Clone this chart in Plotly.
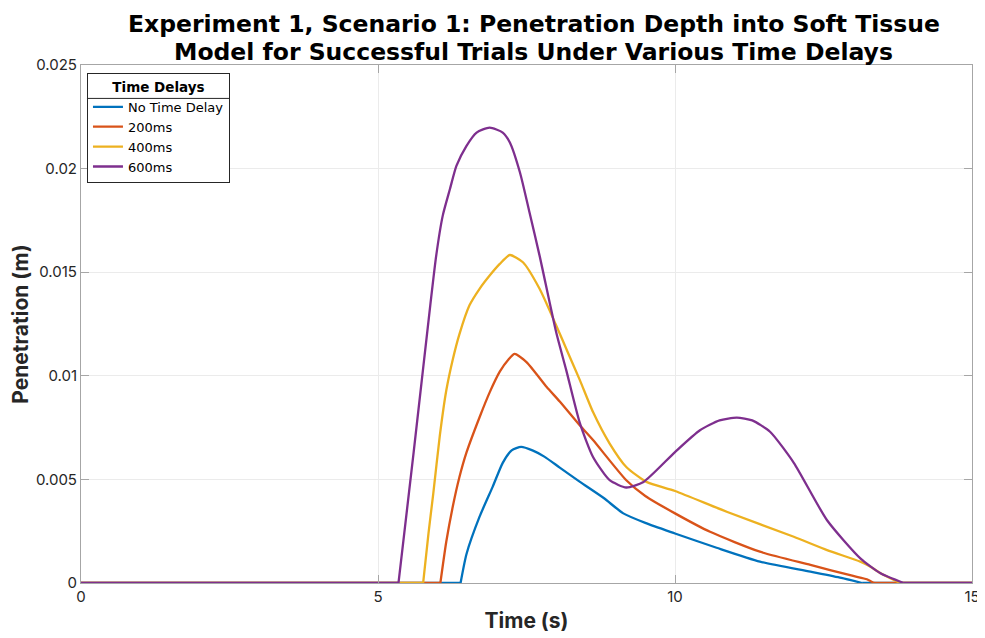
import plotly.graph_objects as go

names = ["No Time Delay", "200ms", "400ms", "600ms"]
colors = ["#0072BD", "#D95319", "#EDB120", "#7E2F8E"]

t_none = [0, 6.39, 6.49, 6.71, 6.93, 7.1, 7.25, 7.41, 7.6, 7.8, 8.06, 8.40, 8.8, 9.13, 9.5, 10.0, 10.7, 11.43, 12.28, 12.8, 13.15, 15]
v_none = [0, 0, 0.0014, 0.0032, 0.00464, 0.0058, 0.0064, 0.00657, 0.0064, 0.0061, 0.00557, 0.00488, 0.0041, 0.00336, 0.0029, 0.00239, 0.0017, 0.00103, 0.00055, 0.00025, 0, 0]

t_200 = [0, 6.05, 6.15, 6.26, 6.37, 6.49, 6.71, 6.88, 7.05, 7.2, 7.30, 7.5, 7.84, 8.06, 8.40, 8.62, 9.18, 9.5, 10.0, 10.59, 11.43, 12.28, 13.0, 13.23, 13.35, 15]
v_200 = [0, 0, 0.0020, 0.0037, 0.0051, 0.0063, 0.0080, 0.0092, 0.0102, 0.0108, 0.01106, 0.01066, 0.00946, 0.00876, 0.0076, 0.0069, 0.00496, 0.0042, 0.00336, 0.00247, 0.00151, 0.00087, 0.00034, 0.00018, 0, 0]

t_400 = [0, 5.76, 5.85, 5.93, 6.04, 6.15, 6.26, 6.37, 6.54, 6.71, 6.88, 7.05, 7.22, 7.44, 7.72, 8.0, 8.2, 8.40, 8.62, 8.90, 9.18, 9.52, 10.0, 10.87, 12.0, 12.56, 13.12, 13.29, 13.46, 13.79, 15]
v_400 = [0, 0, 0.0024, 0.0043, 0.0071, 0.0093, 0.0108, 0.0120, 0.0134, 0.0142, 0.01484, 0.0154, 0.01583, 0.01548, 0.0142, 0.01243, 0.0111, 0.00978, 0.00825, 0.00673, 0.0056, 0.00488, 0.00444, 0.00344, 0.00223, 0.00159, 0.00103, 0.00079, 0.00047, 0, 0]

t_600 = [0, 5.345, 5.6, 5.88, 5.98, 6.09, 6.21, 6.32, 6.49, 6.66, 6.88, 7.10, 7.22, 7.39, 7.55, 7.72, 8.0, 8.17, 8.40, 8.62, 8.90, 9.18, 9.47, 10.0, 10.42, 10.75, 11.04, 11.3, 11.6, 12.0, 12.56, 13.12, 13.46, 13.85, 15]
v_600 = [0, 0, 0.0063, 0.0134, 0.0158, 0.01773, 0.0190, 0.02013, 0.0211, 0.02174, 0.02198, 0.02174, 0.02126, 0.01981, 0.01789, 0.0158, 0.0121, 0.01026, 0.0077, 0.00608, 0.00496, 0.00461, 0.00488, 0.00632, 0.00737, 0.00785, 0.00798, 0.00785, 0.0073, 0.0058, 0.00303, 0.00119, 0.00047, 0, 0]

x_ticks = [0, 5, 10, 15]
y_ticks = [0, 0.005, 0.01, 0.015, 0.02, 0.025]
y_tick_text = ["0", "0.005", "0.01", "0.015", "0.02", "0.025"]

title_lines = ["Experiment 1, Scenario 1: Penetration Depth into Soft Tissue",
               "Model for Successful Trials Under Various Time Delays"]
legend_title = "Time Delays"
x_label = "Time (s)"
y_label = "Penetration (m)"

series = [(t_none, v_none), (t_200, v_200), (t_400, v_400), (t_600, v_600)]

fig = go.Figure()
for (tx, vy), nm, c in zip(series, names, colors):
    nz = [i for i, v in enumerate(vy) if v != 0]
    a, b = nz[0] - 1, nz[-1] + 1
    # flat (zero) parts, drawn straight
    fig.add_trace(go.Scatter(x=tx[:a + 1], y=vy[:a + 1], mode="lines", legendgroup=nm,
                             showlegend=False, hoverinfo="skip",
                             line=dict(color=c, width=2.3)))
    fig.add_trace(go.Scatter(x=tx[b:], y=vy[b:], mode="lines", legendgroup=nm,
                             showlegend=False, hoverinfo="skip",
                             line=dict(color=c, width=2.3)))
    # curved part
    fig.add_trace(go.Scatter(x=tx[a:b + 1], y=vy[a:b + 1], mode="lines", name=nm, legendgroup=nm,
                             line=dict(color=c, width=2.3, shape="spline", smoothing=0.6)))

font_family = "Inter, Liberation Sans, Arial, sans-serif"
axis_col = "#a6a6a6"
txt_col = "#262626"

# the page body adds an 8px offset, so the figure is 8px smaller than the window
fig.update_layout(
    width=977, height=630,
    margin=dict(l=73, r=13, t=57, b=55, autoexpand=False),
    paper_bgcolor="white", plot_bgcolor="white",
    font=dict(family=font_family, color=txt_col, size=15),
    xaxis=dict(range=[0, 15], tickvals=x_ticks, ticks="inside", ticklen=8,
               tickcolor=axis_col, showline=True, linecolor=axis_col, mirror="ticks",
               showgrid=True, gridcolor="#ebebeb", zeroline=False, automargin=False,
               title=dict(text="<b>" + x_label + "</b>", font=dict(size=21, color=txt_col), standoff=8),
               tickfont=dict(size=15, color=txt_col)),
    yaxis=dict(range=[0, 0.025], tickvals=y_ticks, ticktext=y_tick_text, ticks="inside", ticklen=8,
               tickcolor=axis_col, showline=True, linecolor=axis_col, mirror="ticks",
               showgrid=True, gridcolor="#ebebeb", zeroline=False, automargin=False,
               title=dict(text="<b>" + y_label + "</b>", font=dict(size=21, color=txt_col), standoff=2),
               tickfont=dict(size=15, color=txt_col)),
    legend=dict(x=0.0067, y=0.984, xanchor="left", yanchor="top",
                bgcolor="rgba(0,0,0,0)", bordercolor="#262626", borderwidth=1,
                title=dict(text="<b>" + legend_title + "</b>", side="top center",
                           font=dict(size=13.5, color="black", family="DejaVu Sans")),
                font=dict(size=13, color="black", family="DejaVu Sans"), itemwidth=30, tracegroupgap=0),
    showlegend=True,
)

# white backing of the legend box (drawn over the data) and the separator under its title
fig.add_shape(type="rect", xref="paper", yref="paper", x0=0.0067, x1=0.1672, y0=0.772, y1=0.984,
              line=dict(width=0), fillcolor="white", layer="above")
fig.add_shape(type="line", xref="paper", yref="paper", x0=0.0067, x1=0.1672, y0=0.9355, y1=0.9355,
              line=dict(color="#262626", width=1), layer="above")

for i, line in enumerate(title_lines):
    fig.add_annotation(text="<b>" + line + "</b>", xref="paper", yref="paper",
                       x=0.508, y=1.079 - 0.053 * i, xanchor="center", yanchor="middle",
                       showarrow=False, font=dict(size=23.5, color="black", family="DejaVu Sans"))

fig.write_html("out.html")
